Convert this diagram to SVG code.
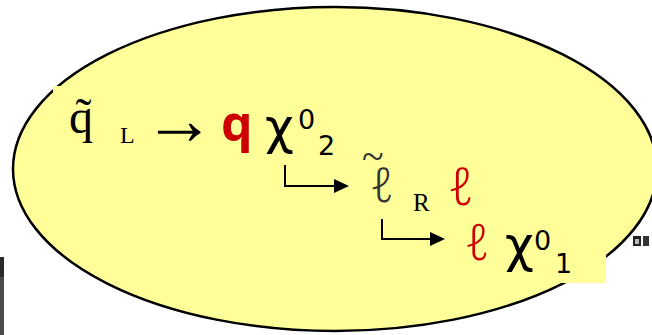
<svg xmlns="http://www.w3.org/2000/svg" width="652" height="335" viewBox="0 0 652 335">
  <style>
    .serif { font-family: "Liberation Serif", "Times New Roman", serif; }
    .script { font-family: "Noto Sans", "Open Sans", "Inter", sans-serif; font-weight: 300; font-style: italic; }
    .sans { font-family: "DejaVu Sans", "Liberation Sans", sans-serif; }
    .blk { fill: #000000; }
    .red { fill: #CC0000; }
    .conn { fill: none; stroke: #000000; stroke-width: 2; }
  </style>
  <defs>
    <marker id="head" markerUnits="userSpaceOnUse" markerWidth="16" markerHeight="16" refX="0" refY="7" orient="auto">
      <path d="M0,0 L15,7 L0,14 z" fill="#000000"/>
    </marker>
  </defs>
  <rect width="652" height="335" fill="#ffffff"/>
  <g id="background-ellipse">
    <ellipse cx="335" cy="169" rx="322" ry="162" fill="#FFFF99" stroke="#000000" stroke-width="2.5"/>
    <rect x="53" y="86" width="150" height="60" fill="#FFFF99"/>
    <rect x="495" y="222" width="111" height="61" fill="#FFFF99"/>
  </g>
  <g id="artifacts">
    <rect x="0" y="257" width="4" height="78" fill="#4a4a4a"/>
    <rect x="0" y="257" width="4" height="20" fill="#2b2b2b"/>
    <rect x="633" y="236" width="8" height="10" fill="#222222"/>
    <rect x="635" y="239" width="4" height="5" fill="#bbbbbb"/>
    <rect x="643" y="236" width="6" height="10" fill="#333333"/>
  </g>
  <g id="squark">
    <text class="serif blk" font-size="48"><tspan x="69" y="133">q̃</tspan><tspan x="120" y="143" font-size="24">L</tspan></text>
  </g>
  <g id="decay-arrow">
    <text class="serif blk" x="143" y="144" font-size="72">→</text>
  </g>
  <g id="quark">
    <text class="red" x="221" y="141" font-size="50" font-weight="bold" font-family="'Open Sans', 'DejaVu Sans', sans-serif">q</text>
  </g>
  <g id="neutralino2">
    <text class="sans blk" font-size="50"><tspan x="265" y="144">χ</tspan><tspan x="298" y="129" font-size="27">0</tspan><tspan x="318" y="155" font-size="27">2</tspan></text>
  </g>
  <g id="slepton">
    <text fill="#333333" font-size="48"><tspan class="script" x="370" y="202">ℓ</tspan><tspan class="serif" x="362" y="170" font-size="40">~</tspan><tspan class="serif blk" x="413" y="211" font-size="25">R</tspan></text>
  </g>
  <g id="lepton1">
    <text class="script red" x="448" y="205" font-size="52">ℓ</text>
  </g>
  <g id="lepton2">
    <text class="script red" x="465" y="260" font-size="50">ℓ</text>
  </g>
  <g id="neutralino1">
    <text class="sans blk" font-size="50"><tspan x="505" y="262">χ</tspan><tspan x="534" y="250" font-size="27">0</tspan><tspan x="555" y="273" font-size="27">1</tspan></text>
  </g>
  <g id="connectors">
    <path class="conn" d="M285,165 V186 H334" marker-end="url(#head)"/>
    <path class="conn" d="M382,219 V239 H430" marker-end="url(#head)"/>
  </g>
</svg>
